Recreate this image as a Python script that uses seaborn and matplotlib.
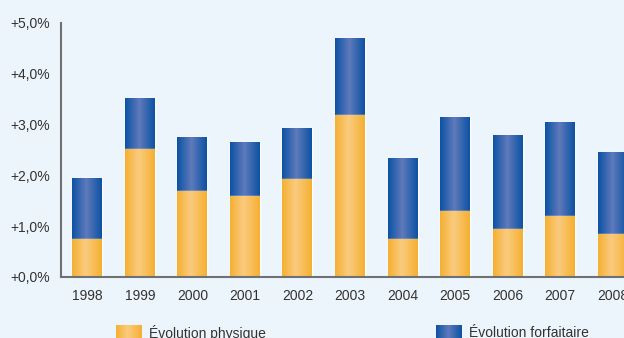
import numpy as np
import pandas as pd
import matplotlib
matplotlib.use("Agg")
import matplotlib.pyplot as plt
from matplotlib.colors import LinearSegmentedColormap
import seaborn as sns

# Annual change, in percentage points
years = ["1998", "1999", "2000", "2001", "2002", "2003", "2004", "2005", "2006", "2007", "2008"]
physique = [0.75, 2.51, 1.69, 1.59, 1.93, 3.19, 0.75, 1.30, 0.94, 1.20, 0.85]
forfaitaire = [1.20, 1.01, 1.07, 1.07, 1.00, 1.51, 1.59, 1.85, 1.86, 1.85, 1.61]
y_ticks = [0, 1, 2, 3, 4, 5]
y_tick_labels = ["+0,0%", "+1,0%", "+2,0%", "+3,0%", "+4,0%", "+5,0%"]
label_physique = "Évolution physique"
label_forfaitaire = "Évolution forfaitaire"

bg = "#EDF5FC"
text_col = "#333333"
axis_col = "#6E7073"
yellow_cmap = LinearSegmentedColormap.from_list(
    "yel", [(0, "#F5B031"), (0.45, "#FACB7F"), (1, "#F5B031")])
blue_cmap = LinearSegmentedColormap.from_list(
    "blu", [(0, "#0B52A4"), (0.48, "#5F7ABB"), (1, "#0B52A4")])

sns.set_theme(style="white")
plt.rcParams["font.family"] = ["Liberation Sans", "DejaVu Sans"]

df = pd.DataFrame({"annee": years, "physique": physique, "forfaitaire": forfaitaire})
df["total"] = df["physique"] + df["forfaitaire"]

fig = plt.figure(figsize=(6.24, 3.38), dpi=100, facecolor=bg)
ax = fig.add_axes([61 / 624, 61 / 338, 578 / 624, 254 / 338])
ax.set_facecolor(bg)

width = 0.57
sns.barplot(data=df, x="annee", y="total", color="#0B52A4", width=width,
            saturation=1, ax=ax, zorder=2)
n_blue = len(ax.patches)
sns.barplot(data=df, x="annee", y="physique", color="#F5B031", width=width,
            saturation=1, ax=ax, zorder=3)

grad = np.linspace(0, 1, 256).reshape(1, -1)
for i, p in enumerate(ax.patches):
    cmap = blue_cmap if i < n_blue else yellow_cmap
    x0, y0 = p.get_x(), p.get_y()
    w, h = p.get_width(), p.get_height()
    im = ax.imshow(grad, extent=[x0, x0 + w, y0, y0 + h], aspect="auto",
                   cmap=cmap, origin="lower", zorder=p.get_zorder() + 0.1,
                   interpolation="bilinear")
    im.set_clip_path(p)

ax.set_xlim(-0.5, len(years) - 0.5)
ax.set_ylim(0, 5)
ax.set_yticks(y_ticks)
ax.set_yticklabels(y_tick_labels)
ax.set_xlabel("")
ax.set_ylabel("")
ax.tick_params(axis="both", length=0, labelsize=10, labelcolor=text_col)
ax.tick_params(axis="x", pad=9)
ax.tick_params(axis="y", pad=8)
for s in ["top", "right"]:
    ax.spines[s].set_visible(False)
for s in ["left", "bottom"]:
    ax.spines[s].set_color(axis_col)
    ax.spines[s].set_linewidth(1.5)
    ax.spines[s].set_zorder(5)

# Legend swatches with the same gradients
for x_px, cmap, label in [(116, yellow_cmap, label_physique),
                          (436, blue_cmap, label_forfaitaire)]:
    sw = fig.add_axes([x_px / 624, -2 / 338, 26 / 624, 15 / 338])
    sw.imshow(grad, aspect="auto", cmap=cmap, interpolation="bilinear")
    sw.set_axis_off()
    fig.text((x_px + 33) / 624, 5 / 338, label, fontsize=10, color=text_col,
             va="center", ha="left")

fig.savefig("out.png", dpi=100, facecolor=bg)
